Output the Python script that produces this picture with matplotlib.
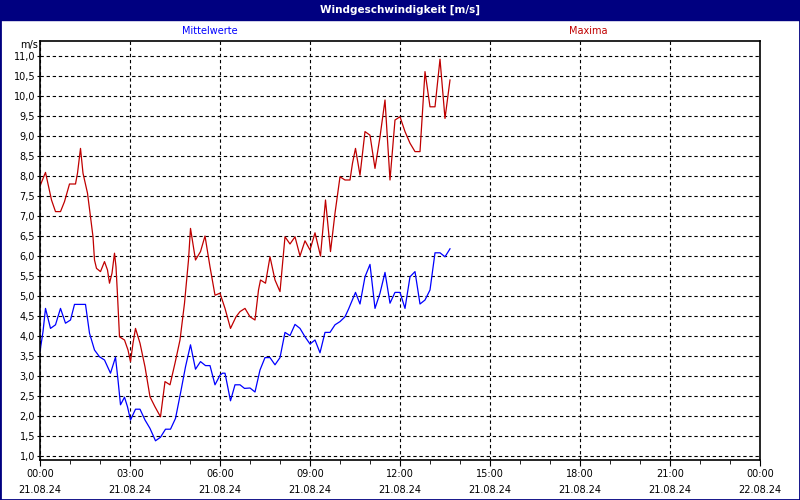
import matplotlib.pyplot as plt
from matplotlib.patches import Rectangle
from matplotlib.ticker import MultipleLocator, FuncFormatter

# Data (minutes since 21.08.24 00:00, m/s)
max_min = [0, 11, 23, 31, 41, 49, 59, 71, 75, 81, 86, 95, 101, 106, 109, 113,
           121, 129, 135, 139, 144, 149, 152, 155, 159, 169, 176, 181, 186, 191,
           200, 210, 220, 230, 241, 250, 260, 270, 280, 289, 297, 301, 311, 321,
           330, 340, 350, 360, 370, 381, 392, 400, 410, 420, 430, 437, 441, 451,
           460, 470, 480, 490, 500, 510, 520, 530, 540, 550, 561, 571, 581, 590,
           600, 610, 620, 625, 631, 640, 650, 660, 670, 680, 690, 700, 710, 720,
           730, 740, 750, 760, 770, 780, 790, 800, 810, 820]
max_val = [7.75, 8.09, 7.4, 7.11, 7.11, 7.36, 7.8, 7.8, 8.07, 8.69, 8.07, 7.57,
           6.98, 6.48, 5.9, 5.69, 5.61, 5.86, 5.65, 5.32, 5.57, 6.07, 5.73, 5.02,
           3.98, 3.9, 3.65, 3.36, 3.82, 4.19, 3.82, 3.23, 2.48, 2.23, 1.98, 2.86,
           2.78, 3.32, 3.9, 4.82, 5.9, 6.69, 5.9, 6.11, 6.5, 5.73, 5.02, 5.07,
           4.69, 4.19, 4.48, 4.61, 4.69, 4.48, 4.4, 5.15, 5.4, 5.32, 5.98, 5.4,
           5.11, 6.48, 6.3, 6.48, 6.0, 6.38, 6.15, 6.58, 6.0, 7.4, 6.11, 7.07,
           7.98, 7.9, 7.9, 8.32, 8.69, 8.02, 9.11, 9.02, 8.19, 8.98, 9.9, 7.9,
           9.4, 9.48, 9.11, 8.82, 8.61, 8.61, 10.61, 9.73, 9.73, 10.92, 9.44, 10.4]

mean_min = [0, 6, 11, 21, 31, 41, 51, 61, 69, 91, 99, 109, 119, 129, 141, 151,
            156, 161, 169, 175, 181, 191, 200, 210, 220, 231, 241, 251, 261, 271,
            281, 291, 301, 311, 321, 331, 340, 350, 360, 365, 370, 381, 390, 400,
            409, 420, 430, 440, 450, 460, 470, 480, 490, 500, 510, 520, 530, 540,
            550, 560, 570, 580, 590, 600, 610, 617, 631, 640, 650, 660, 670, 680,
            690, 700, 710, 720, 730, 740, 750, 760, 770, 780, 790, 800, 810, 820]
mean_val = [3.61, 4.11, 4.69, 4.19, 4.28, 4.69, 4.32, 4.4, 4.79, 4.79, 4.07, 3.65,
            3.48, 3.4, 3.07, 3.47, 2.9, 2.28, 2.47, 2.23, 1.9, 2.17, 2.17, 1.9,
            1.69, 1.38, 1.47, 1.67, 1.67, 1.94, 2.57, 3.23, 3.78, 3.17, 3.36, 3.26,
            3.26, 2.78, 3.02, 3.07, 3.07, 2.38, 2.78, 2.78, 2.69, 2.7, 2.6, 3.15,
            3.46, 3.46, 3.28, 3.46, 4.09, 4.01, 4.29, 4.19, 3.98, 3.8, 3.9, 3.58,
            4.09, 4.09, 4.28, 4.36, 4.48, 4.67, 5.09, 4.8, 5.48, 5.79, 4.69, 5.07,
            5.59, 4.82, 5.09, 5.09, 4.69, 5.48, 5.61, 4.8, 4.9, 5.15, 6.08, 6.08,
            5.98, 6.18]

tick_times = ['00:00', '03:00', '06:00', '09:00', '12:00', '15:00', '18:00', '21:00', '00:00']
tick_dates = ['21.08.24'] * 8 + ['22.08.24']

navy = '#000080'
red = '#c00000'
blue = '#0000ff'

fig = plt.figure(figsize=(8, 5), dpi=100)
ax = fig.add_axes([40 / 800, 1 - 460 / 500, 720 / 800, 419 / 500])

ax.plot(max_min, max_val, color=red, lw=0.9)
ax.plot(mean_min, mean_val, color=blue, lw=0.9)

ax.set_xlim(0, 1440)
ax.xaxis.set_minor_locator(MultipleLocator(60))
ax.yaxis.set_major_locator(MultipleLocator(0.5))
ax.set_xticks(range(0, 1441, 180))
ax.set_xticklabels([f'{t}\n{d}' for t, d in zip(tick_times, tick_dates)],
                   linespacing=1.75)
ax.yaxis.set_major_formatter(FuncFormatter(lambda v, p: f'{v:.1f}'.replace('.', ',')))
ax.set_ylim(0.9, 11.375)

ax.tick_params(axis='x', which='major', length=4, pad=2.5, labelsize=7)
ax.tick_params(axis='x', which='minor', length=3)
ax.tick_params(axis='y', length=2, pad=1.5, labelsize=7)
ax.grid(True, axis='both', which='major', color='black', lw=0.8, linestyle=(0, (3, 2.5)))
for s in ax.spines.values():
    s.set_linewidth(1.2)

# title bar, border and headings
fig.patches.append(Rectangle((0, 1 - 20 / 500), 1, 20 / 500, transform=fig.transFigure,
                             color=navy, zorder=0))
fig.patches.append(Rectangle((0, 0), 1, 1, transform=fig.transFigure, fill=False,
                             edgecolor=navy, lw=2))
fig.text(0.5, 1 - 10 / 500, 'Windgeschwindigkeit [m/s]', color='white',
         fontsize=7.5, fontweight='bold', ha='center', va='center')
fig.text(210 / 800, 1 - 31 / 500, 'Mittelwerte', color=blue, fontsize=7, ha='center', va='center')
fig.text(588 / 800, 1 - 31 / 500, 'Maxima', color=red, fontsize=7, ha='center', va='center')
fig.text(38 / 800, 1 - 45 / 500, 'm/s', fontsize=7, ha='right', va='center')

fig.savefig('out.png', dpi=100)
